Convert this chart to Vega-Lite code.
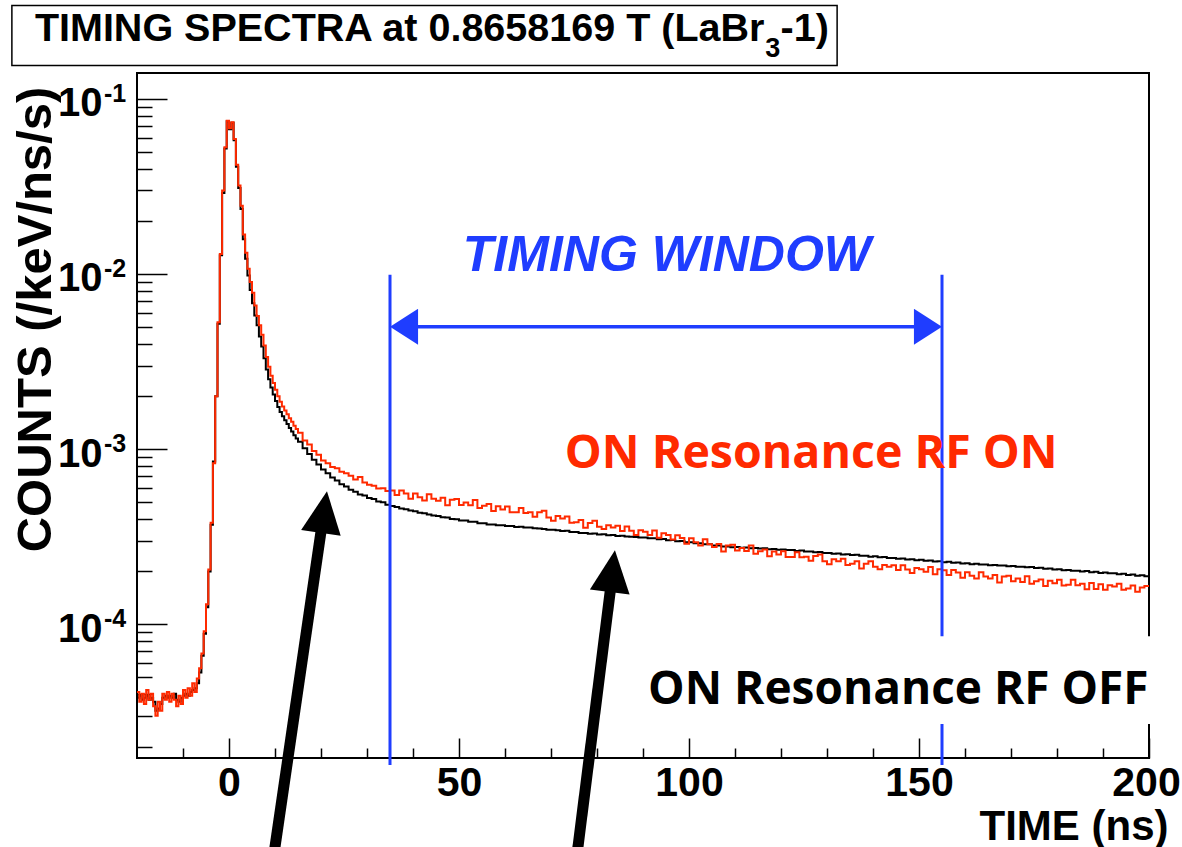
{
  "$schema": "https://vega.github.io/schema/vega-lite/v6.json",
  "width": 1012,
  "height": 685,
  "autosize": {"type": "none"},
  "padding": {"left": 137, "top": 73, "right": 33, "bottom": 89},
  "background": "white",
  "config": {
    "view": {"stroke": "black", "strokeWidth": 2},
    "axis": {"labelColor": "black", "tickColor": "black", "titleColor": "black", "domain": false, "grid": false}
  },
  "data": {"name": "anchor"},
  "datasets": {
    "anchor": [{}],
    "spectra": [
      {"t": -20, "off": 3.8e-5, "on": 4.1e-5},
      {"t": -19.5, "off": 3.9e-5, "on": 3.6e-5},
      {"t": -19, "off": 3.7e-5, "on": 4.0e-5},
      {"t": -18.5, "off": 3.8e-5, "on": 3.5e-5},
      {"t": -18, "off": 3.9e-5, "on": 4.2e-5},
      {"t": -17.5, "off": 3.7e-5, "on": 3.7e-5},
      {"t": -17, "off": 3.8e-5, "on": 4.0e-5},
      {"t": -16.5, "off": 3.6e-5, "on": 3.4e-5},
      {"t": -16, "off": 3.2e-5, "on": 3.0e-5},
      {"t": -15.5, "off": 3.3e-5, "on": 3.6e-5},
      {"t": -15, "off": 3.5e-5, "on": 3.2e-5},
      {"t": -14.5, "off": 3.8e-5, "on": 4.0e-5},
      {"t": -14, "off": 3.9e-5, "on": 3.7e-5},
      {"t": -13.5, "off": 3.8e-5, "on": 4.1e-5},
      {"t": -13, "off": 3.9e-5, "on": 3.6e-5},
      {"t": -12.5, "off": 3.8e-5, "on": 4.0e-5},
      {"t": -12, "off": 4.0e-5, "on": 3.7e-5},
      {"t": -11.5, "off": 3.7e-5, "on": 3.4e-5},
      {"t": -11, "off": 3.6e-5, "on": 3.9e-5},
      {"t": -10.5, "off": 3.8e-5, "on": 3.5e-5},
      {"t": -10, "off": 3.9e-5, "on": 4.2e-5},
      {"t": -9.5, "off": 4.0e-5, "on": 3.8e-5},
      {"t": -9, "off": 3.9e-5, "on": 4.3e-5},
      {"t": -8.5, "off": 4.1e-5, "on": 3.9e-5},
      {"t": -8, "off": 4.2e-5, "on": 4.6e-5},
      {"t": -7.5, "off": 4.3e-5, "on": 4.1e-5},
      {"t": -7, "off": 4.6e-5, "on": 4.9e-5},
      {"t": -6.5, "off": 5.3e-5, "on": 5.6e-5},
      {"t": -6, "off": 6.6e-5, "on": 6.8e-5},
      {"t": -5.5, "off": 8.8e-5, "on": 9.1e-5},
      {"t": -5, "off": 1.25e-4, "on": 1.30e-4},
      {"t": -4.5, "off": 2.0e-4, "on": 2.05e-4},
      {"t": -4, "off": 3.7e-4, "on": 3.8e-4},
      {"t": -3.5, "off": 8.5e-4, "on": 8.3e-4},
      {"t": -3, "off": 2.0e-3, "on": 2.0e-3},
      {"t": -2.5, "off": 5.2e-3, "on": 5.3e-3},
      {"t": -2, "off": 1.28e-2, "on": 1.30e-2},
      {"t": -1.5, "off": 2.9e-2, "on": 3.0e-2},
      {"t": -1, "off": 5.2e-2, "on": 5.3e-2},
      {"t": -0.5, "off": 7.45e-2, "on": 7.5e-2},
      {"t": 0, "off": 6.7e-2, "on": 6.8e-2},
      {"t": 0.5, "off": 7.3e-2, "on": 7.35e-2},
      {"t": 1, "off": 5.8e-2, "on": 5.9e-2},
      {"t": 1.5, "off": 4.1e-2, "on": 4.2e-2},
      {"t": 2, "off": 3.1e-2, "on": 3.2e-2},
      {"t": 2.5, "off": 2.35e-2, "on": 2.45e-2},
      {"t": 3, "off": 1.58e-2, "on": 1.68e-2},
      {"t": 3.5, "off": 1.22e-2, "on": 1.32e-2},
      {"t": 4, "off": 9.8e-3, "on": 1.07e-2},
      {"t": 4.5, "off": 8.1e-3, "on": 9.0e-3},
      {"t": 5, "off": 6.8e-3, "on": 7.8e-3},
      {"t": 5.5, "off": 5.8e-3, "on": 6.6e-3},
      {"t": 6, "off": 5.1e-3, "on": 5.75e-3},
      {"t": 6.5, "off": 4.4e-3, "on": 5.1e-3},
      {"t": 7, "off": 3.85e-3, "on": 4.5e-3},
      {"t": 7.5, "off": 3.3e-3, "on": 3.9e-3},
      {"t": 8, "off": 2.85e-3, "on": 3.35e-3},
      {"t": 8.5, "off": 2.5e-3, "on": 2.95e-3},
      {"t": 9, "off": 2.25e-3, "on": 2.62e-3},
      {"t": 9.5, "off": 2.05e-3, "on": 2.38e-3},
      {"t": 10, "off": 1.88e-3, "on": 2.18e-3},
      {"t": 10.5, "off": 1.74e-3, "on": 2.0e-3},
      {"t": 11, "off": 1.63e-3, "on": 1.86e-3},
      {"t": 11.5, "off": 1.54e-3, "on": 1.75e-3},
      {"t": 12, "off": 1.46e-3, "on": 1.66e-3},
      {"t": 12.5, "off": 1.39e-3, "on": 1.58e-3},
      {"t": 13, "off": 1.32e-3, "on": 1.50e-3},
      {"t": 13.5, "off": 1.26e-3, "on": 1.43e-3},
      {"t": 14, "off": 1.20e-3, "on": 1.36e-3},
      {"t": 14.5, "off": 1.15e-3, "on": 1.30e-3},
      {"t": 15, "off": 1.10e-3, "on": 1.24e-3},
      {"t": 16, "off": 1.01e-3, "on": 1.12e-3},
      {"t": 17, "off": 9.38e-4, "on": 1.06e-3},
      {"t": 18, "off": 8.68e-4, "on": 9.75e-4},
      {"t": 19, "off": 8.17e-4, "on": 9.28e-4},
      {"t": 20, "off": 7.63e-4, "on": 8.60e-4},
      {"t": 21, "off": 7.27e-4, "on": 8.31e-4},
      {"t": 22, "off": 6.88e-4, "on": 7.90e-4},
      {"t": 23, "off": 6.62e-4, "on": 7.78e-4},
      {"t": 24, "off": 6.30e-4, "on": 7.42e-4},
      {"t": 25, "off": 6.12e-4, "on": 7.28e-4},
      {"t": 26, "off": 5.86e-4, "on": 7.05e-4},
      {"t": 27, "off": 5.71e-4, "on": 6.70e-4},
      {"t": 28, "off": 5.50e-4, "on": 6.92e-4},
      {"t": 29, "off": 5.42e-4, "on": 6.45e-4},
      {"t": 30, "off": 5.25e-4, "on": 6.25e-4},
      {"t": 31, "off": 5.18e-4, "on": 6.18e-4},
      {"t": 32, "off": 5.02e-4, "on": 5.95e-4},
      {"t": 33, "off": 4.97e-4, "on": 5.98e-4},
      {"t": 34, "off": 4.80e-4, "on": 5.76e-4},
      {"t": 35, "off": 4.73e-4, "on": 5.80e-4},
      {"t": 36, "off": 4.67e-4, "on": 5.47e-4},
      {"t": 37, "off": 4.57e-4, "on": 5.80e-4},
      {"t": 38, "off": 4.53e-4, "on": 5.58e-4},
      {"t": 39, "off": 4.45e-4, "on": 5.20e-4},
      {"t": 40, "off": 4.41e-4, "on": 5.58e-4},
      {"t": 41, "off": 4.32e-4, "on": 5.31e-4},
      {"t": 42, "off": 4.30e-4, "on": 5.09e-4},
      {"t": 43, "off": 4.23e-4, "on": 5.51e-4},
      {"t": 44, "off": 4.18e-4, "on": 5.21e-4},
      {"t": 45, "off": 4.15e-4, "on": 5.06e-4},
      {"t": 46, "off": 4.08e-4, "on": 5.27e-4},
      {"t": 47, "off": 4.06e-4, "on": 4.77e-4},
      {"t": 48, "off": 3.99e-4, "on": 5.13e-4},
      {"t": 49, "off": 3.97e-4, "on": 5.18e-4},
      {"t": 50, "off": 3.91e-4, "on": 4.79e-4},
      {"t": 51, "off": 3.91e-4, "on": 4.95e-4},
      {"t": 52, "off": 3.85e-4, "on": 4.77e-4},
      {"t": 53, "off": 3.84e-4, "on": 5.12e-4},
      {"t": 54, "off": 3.77e-4, "on": 4.60e-4},
      {"t": 55, "off": 3.77e-4, "on": 4.75e-4},
      {"t": 56, "off": 3.71e-4, "on": 4.85e-4},
      {"t": 57, "off": 3.71e-4, "on": 4.43e-4},
      {"t": 58, "off": 3.67e-4, "on": 4.71e-4},
      {"t": 59, "off": 3.67e-4, "on": 4.52e-4},
      {"t": 60, "off": 3.63e-4, "on": 4.70e-4},
      {"t": 61, "off": 3.64e-4, "on": 4.35e-4},
      {"t": 62, "off": 3.59e-4, "on": 4.35e-4},
      {"t": 63, "off": 3.60e-4, "on": 4.61e-4},
      {"t": 64, "off": 3.56e-4, "on": 4.31e-4},
      {"t": 65, "off": 3.56e-4, "on": 4.35e-4},
      {"t": 66, "off": 3.53e-4, "on": 4.10e-4},
      {"t": 67, "off": 3.52e-4, "on": 4.36e-4},
      {"t": 68, "off": 3.50e-4, "on": 4.44e-4},
      {"t": 69, "off": 3.46e-4, "on": 4.07e-4},
      {"t": 70, "off": 3.46e-4, "on": 3.90e-4},
      {"t": 71, "off": 3.44e-4, "on": 4.14e-4},
      {"t": 72, "off": 3.40e-4, "on": 4.01e-4},
      {"t": 73, "off": 3.41e-4, "on": 4.12e-4},
      {"t": 74, "off": 3.36e-4, "on": 3.79e-4},
      {"t": 75, "off": 3.36e-4, "on": 3.82e-4},
      {"t": 76, "off": 3.32e-4, "on": 3.93e-4},
      {"t": 77, "off": 3.32e-4, "on": 3.55e-4},
      {"t": 78, "off": 3.28e-4, "on": 3.78e-4},
      {"t": 79, "off": 3.29e-4, "on": 3.89e-4},
      {"t": 80, "off": 3.25e-4, "on": 3.60e-4},
      {"t": 81, "off": 3.26e-4, "on": 3.49e-4},
      {"t": 82, "off": 3.22e-4, "on": 3.67e-4},
      {"t": 83, "off": 3.23e-4, "on": 3.57e-4},
      {"t": 84, "off": 3.19e-4, "on": 3.65e-4},
      {"t": 85, "off": 3.20e-4, "on": 3.40e-4},
      {"t": 86, "off": 3.17e-4, "on": 3.61e-4},
      {"t": 87, "off": 3.16e-4, "on": 3.41e-4},
      {"t": 88, "off": 3.15e-4, "on": 3.23e-4},
      {"t": 89, "off": 3.12e-4, "on": 3.44e-4},
      {"t": 90, "off": 3.12e-4, "on": 3.37e-4},
      {"t": 91, "off": 3.09e-4, "on": 3.23e-4},
      {"t": 92, "off": 3.09e-4, "on": 3.43e-4},
      {"t": 93, "off": 3.05e-4, "on": 3.11e-4},
      {"t": 94, "off": 3.06e-4, "on": 3.30e-4},
      {"t": 95, "off": 3.01e-4, "on": 3.23e-4},
      {"t": 96, "off": 3.02e-4, "on": 3.04e-4},
      {"t": 97, "off": 2.97e-4, "on": 3.22e-4},
      {"t": 98, "off": 2.98e-4, "on": 3.10e-4},
      {"t": 99, "off": 2.94e-4, "on": 2.88e-4},
      {"t": 100, "off": 2.94e-4, "on": 3.09e-4},
      {"t": 101, "off": 2.90e-4, "on": 2.94e-4},
      {"t": 102, "off": 2.90e-4, "on": 2.81e-4},
      {"t": 103, "off": 2.86e-4, "on": 3.05e-4},
      {"t": 104, "off": 2.86e-4, "on": 2.86e-4},
      {"t": 105, "off": 2.81e-4, "on": 2.76e-4},
      {"t": 106, "off": 2.81e-4, "on": 2.87e-4},
      {"t": 107, "off": 2.78e-4, "on": 2.60e-4},
      {"t": 108, "off": 2.78e-4, "on": 2.81e-4},
      {"t": 109, "off": 2.75e-4, "on": 2.84e-4},
      {"t": 110, "off": 2.76e-4, "on": 2.63e-4},
      {"t": 111, "off": 2.73e-4, "on": 2.72e-4},
      {"t": 112, "off": 2.74e-4, "on": 2.62e-4},
      {"t": 113, "off": 2.71e-4, "on": 2.81e-4},
      {"t": 114, "off": 2.72e-4, "on": 2.52e-4},
      {"t": 115, "off": 2.70e-4, "on": 2.61e-4},
      {"t": 116, "off": 2.71e-4, "on": 2.67e-4},
      {"t": 117, "off": 2.68e-4, "on": 2.44e-4},
      {"t": 118, "off": 2.69e-4, "on": 2.60e-4},
      {"t": 119, "off": 2.66e-4, "on": 2.50e-4},
      {"t": 120, "off": 2.67e-4, "on": 2.61e-4},
      {"t": 121, "off": 2.65e-4, "on": 2.42e-4},
      {"t": 122, "off": 2.65e-4, "on": 2.42e-4},
      {"t": 123, "off": 2.62e-4, "on": 2.57e-4},
      {"t": 124, "off": 2.63e-4, "on": 2.41e-4},
      {"t": 125, "off": 2.60e-4, "on": 2.43e-4},
      {"t": 126, "off": 2.60e-4, "on": 2.30e-4},
      {"t": 127, "off": 2.57e-4, "on": 2.45e-4},
      {"t": 128, "off": 2.58e-4, "on": 2.50e-4},
      {"t": 129, "off": 2.55e-4, "on": 2.29e-4},
      {"t": 130, "off": 2.55e-4, "on": 2.20e-4},
      {"t": 131, "off": 2.52e-4, "on": 2.35e-4},
      {"t": 132, "off": 2.53e-4, "on": 2.29e-4},
      {"t": 133, "off": 2.50e-4, "on": 2.36e-4},
      {"t": 134, "off": 2.51e-4, "on": 2.18e-4},
      {"t": 135, "off": 2.48e-4, "on": 2.21e-4},
      {"t": 136, "off": 2.49e-4, "on": 2.29e-4},
      {"t": 137, "off": 2.46e-4, "on": 2.08e-4},
      {"t": 138, "off": 2.46e-4, "on": 2.21e-4},
      {"t": 139, "off": 2.43e-4, "on": 2.29e-4},
      {"t": 140, "off": 2.44e-4, "on": 2.13e-4},
      {"t": 141, "off": 2.41e-4, "on": 2.06e-4},
      {"t": 142, "off": 2.42e-4, "on": 2.18e-4},
      {"t": 143, "off": 2.39e-4, "on": 2.13e-4},
      {"t": 144, "off": 2.39e-4, "on": 2.17e-4},
      {"t": 145, "off": 2.36e-4, "on": 2.04e-4},
      {"t": 146, "off": 2.37e-4, "on": 2.17e-4},
      {"t": 147, "off": 2.34e-4, "on": 2.05e-4},
      {"t": 148, "off": 2.35e-4, "on": 1.96e-4},
      {"t": 149, "off": 2.32e-4, "on": 2.09e-4},
      {"t": 150, "off": 2.33e-4, "on": 2.06e-4},
      {"t": 151, "off": 2.30e-4, "on": 1.99e-4},
      {"t": 152, "off": 2.31e-4, "on": 2.12e-4},
      {"t": 153, "off": 2.28e-4, "on": 1.93e-4},
      {"t": 154, "off": 2.29e-4, "on": 2.06e-4},
      {"t": 155, "off": 2.26e-4, "on": 2.03e-4},
      {"t": 156, "off": 2.27e-4, "on": 1.91e-4},
      {"t": 157, "off": 2.24e-4, "on": 2.04e-4},
      {"t": 158, "off": 2.25e-4, "on": 1.97e-4},
      {"t": 159, "off": 2.22e-4, "on": 1.84e-4},
      {"t": 160, "off": 2.23e-4, "on": 1.98e-4},
      {"t": 161, "off": 2.20e-4, "on": 1.89e-4},
      {"t": 162, "off": 2.21e-4, "on": 1.82e-4},
      {"t": 163, "off": 2.19e-4, "on": 1.98e-4},
      {"t": 164, "off": 2.19e-4, "on": 1.87e-4},
      {"t": 165, "off": 2.17e-4, "on": 1.82e-4},
      {"t": 166, "off": 2.18e-4, "on": 1.91e-4},
      {"t": 167, "off": 2.16e-4, "on": 1.73e-4},
      {"t": 168, "off": 2.16e-4, "on": 1.87e-4},
      {"t": 169, "off": 2.14e-4, "on": 1.89e-4},
      {"t": 170, "off": 2.15e-4, "on": 1.76e-4},
      {"t": 171, "off": 2.13e-4, "on": 1.82e-4},
      {"t": 172, "off": 2.13e-4, "on": 1.74e-4},
      {"t": 173, "off": 2.11e-4, "on": 1.88e-4},
      {"t": 174, "off": 2.12e-4, "on": 1.70e-4},
      {"t": 175, "off": 2.09e-4, "on": 1.76e-4},
      {"t": 176, "off": 2.10e-4, "on": 1.80e-4},
      {"t": 177, "off": 2.07e-4, "on": 1.65e-4},
      {"t": 178, "off": 2.08e-4, "on": 1.77e-4},
      {"t": 179, "off": 2.05e-4, "on": 1.71e-4},
      {"t": 180, "off": 2.06e-4, "on": 1.79e-4},
      {"t": 181, "off": 2.03e-4, "on": 1.66e-4},
      {"t": 182, "off": 2.04e-4, "on": 1.68e-4},
      {"t": 183, "off": 2.02e-4, "on": 1.79e-4},
      {"t": 184, "off": 2.02e-4, "on": 1.67e-4},
      {"t": 185, "off": 2.00e-4, "on": 1.70e-4},
      {"t": 186, "off": 2.01e-4, "on": 1.58e-4},
      {"t": 187, "off": 1.98e-4, "on": 1.72e-4},
      {"t": 188, "off": 1.99e-4, "on": 1.59e-4},
      {"t": 189, "off": 1.96e-4, "on": 1.69e-4},
      {"t": 190, "off": 1.97e-4, "on": 1.57e-4},
      {"t": 191, "off": 1.95e-4, "on": 1.67e-4},
      {"t": 192, "off": 1.95e-4, "on": 1.64e-4},
      {"t": 193, "off": 1.93e-4, "on": 1.70e-4},
      {"t": 194, "off": 1.94e-4, "on": 1.57e-4},
      {"t": 195, "off": 1.91e-4, "on": 1.60e-4},
      {"t": 196, "off": 1.92e-4, "on": 1.66e-4},
      {"t": 197, "off": 1.89e-4, "on": 1.53e-4},
      {"t": 198, "off": 1.90e-4, "on": 1.62e-4},
      {"t": 199, "off": 1.88e-4, "on": 1.65e-4},
      {"t": 200, "off": 1.88e-4, "on": 1.65e-4}
    ],
    "window": [{"t": 35}, {"t": 155}],
    "decades": [
      {"v": 0.1, "e": "-1"},
      {"v": 0.01, "e": "-2"},
      {"v": 0.001, "e": "-3"},
      {"v": 0.0001, "e": "-4"}
    ]
  },
  "layer": [
    {
      "data": {"name": "spectra"},
      "mark": {"type": "line", "interpolate": "step-after", "color": "black", "strokeWidth": 2},
      "encoding": {
        "x": {
          "field": "t",
          "type": "quantitative",
          "scale": {"domain": [-20, 200], "nice": false, "zero": false},
          "axis": {
            "orient": "bottom",
            "values": [-10, 0, 10, 20, 30, 40, 50, 60, 70, 80, 90, 100, 110, 120, 130, 140, 150, 160, 170, 180, 190, 200],
            "labelExpr": "datum.value % 50 === 0 ? format(datum.value, 'd') : ''",
            "tickSize": {"condition": {"test": "datum.value % 50 === 0", "value": -20}, "value": -10},
            "tickWidth": 1.5,
            "labelFont": "Liberation Sans",
            "labelFontWeight": "bold",
            "labelFontSize": 41,
            "labelPadding": 25,
            "labelOffset": {"condition": {"test": "datum.value === 200", "value": -3}, "value": 0},
            "labelFlush": false,
            "labelOverlap": false,
            "title": "TIME (ns)",
            "titleFont": "Liberation Sans",
            "titleFontWeight": "bold",
            "titleFontSize": 42,
            "titleX": 1031,
            "titleY": 81,
            "titleAlign": "right",
            "titleBaseline": "alphabetic"
          }
        },
        "y": {
          "field": "off",
          "type": "quantitative",
          "scale": {"type": "log", "domain": [1.72e-5, 0.1405], "nice": false},
          "axis": {
            "orient": "left",
            "values": [2e-5, 3e-5, 4e-5, 5e-5, 6e-5, 7e-5, 8e-5, 9e-5, 1e-4, 2e-4, 3e-4, 4e-4, 5e-4, 6e-4, 7e-4, 8e-4, 9e-4, 1e-3, 2e-3, 3e-3, 4e-3, 5e-3, 6e-3, 7e-3, 8e-3, 9e-3, 0.01, 0.02, 0.03, 0.04, 0.05, 0.06, 0.07, 0.08, 0.09, 0.1],
            "labelExpr": "abs(log(datum.value) / LN10 - round(log(datum.value) / LN10)) < 0.001 ? '10' : ''",
            "tickSize": {"condition": {"test": "abs(log(datum.value) / LN10 - round(log(datum.value) / LN10)) < 0.001", "value": -30}, "value": -15},
            "tickWidth": 1.5,
            "labelFont": "Liberation Sans",
            "labelFontWeight": "bold",
            "labelFontSize": 40,
            "labelPadding": 65,
            "labelBaseline": "middle",
            "labelOffset": 5,
            "labelOverlap": false,
            "labelFlush": false,
            "title": "COUNTS (/keV/ns/s)",
            "titleFont": "Liberation Sans",
            "titleFontWeight": "bold",
            "titleFontSize": 49,
            "titleX": -102,
            "titleY": 246,
            "titleAlign": "center",
            "titleBaseline": "middle"
          }
        }
      }
    },
    {
      "data": {"name": "spectra"},
      "mark": {"type": "line", "interpolate": "step-after", "color": "#ff2a00", "strokeWidth": 2},
      "encoding": {
        "x": {"field": "t", "type": "quantitative"},
        "y": {"field": "on", "type": "quantitative"}
      }
    },
    {
      "data": {"name": "window"},
      "mark": {"type": "rule", "color": "#1f3dff", "strokeWidth": 3},
      "encoding": {
        "x": {"field": "t", "type": "quantitative"},
        "y": {"datum": 0.0099},
        "y2": {"datum": 1.57e-5}
      }
    },
    {
      "mark": {"type": "rule", "color": "#1f3dff", "strokeWidth": 3.5},
      "encoding": {
        "x": {"datum": 37},
        "x2": {"datum": 153},
        "y": {"datum": 0.005}
      }
    },
    {
      "mark": {"type": "point", "shape": "M0,0L1.56,-1L1.56,1Z", "size": 1296, "filled": true, "color": "#1f3dff", "opacity": 1, "strokeWidth": 0},
      "encoding": {"x": {"datum": 35}, "y": {"datum": 0.005}}
    },
    {
      "mark": {"type": "point", "shape": "M0,0L-1.56,-1L-1.56,1Z", "size": 1296, "filled": true, "color": "#1f3dff", "opacity": 1, "strokeWidth": 0},
      "encoding": {"x": {"datum": 155}, "y": {"datum": 0.005}}
    },
    {
      "mark": {"type": "text", "text": "TIMING WINDOW", "font": "Liberation Sans", "fontWeight": "bold", "fontStyle": "italic", "fontSize": 50, "color": "#1f3dff", "align": "center", "baseline": "alphabetic"},
      "encoding": {"x": {"datum": 95.2}, "y": {"datum": 0.01033}}
    },
    {
      "mark": {"type": "rule", "color": "black", "strokeWidth": 11},
      "encoding": {"x": {"datum": 9.58}, "x2": {"datum": 20.2}, "y": {"datum": 4.49e-6}, "y2": {"datum": 3.67e-4}}
    },
    {
      "mark": {"type": "point", "shape": "M0,0L1,2.1L-1,2.1Z", "size": 1600, "filled": true, "color": "black", "opacity": 1, "strokeWidth": 0, "angle": 8.3},
      "encoding": {"x": {"datum": 21.3}, "y": {"datum": 5.74e-4}}
    },
    {
      "mark": {"type": "rule", "color": "black", "strokeWidth": 11},
      "encoding": {"x": {"datum": 75.5}, "x2": {"datum": 83.04}, "y": {"datum": 4.49e-6}, "y2": {"datum": 1.667e-4}}
    },
    {
      "mark": {"type": "point", "shape": "M0,0L1,2.1L-1,2.1Z", "size": 1600, "filled": true, "color": "black", "opacity": 1, "strokeWidth": 0, "angle": 7.1},
      "encoding": {"x": {"datum": 83.9}, "y": {"datum": 2.64e-4}}
    },
    {
      "mark": {"type": "rect", "fill": "white", "stroke": null},
      "encoding": {"x": {"datum": 89.3}, "x2": {"datum": 207.2}, "y": {"datum": 8.53e-5}, "y2": {"datum": 2.69e-5}}
    },
    {
      "mark": {"type": "text", "text": "ON Resonance RF ON", "font": "Open Sans", "fontWeight": "bold", "fontSize": 46.5, "color": "#ff2a00", "align": "left", "baseline": "alphabetic"},
      "encoding": {"x": {"datum": 73.0}, "y": {"datum": 7.76e-4}}
    },
    {
      "mark": {"type": "text", "text": "ON Resonance RF OFF", "font": "Open Sans", "fontWeight": "bold", "fontSize": 46, "color": "black", "align": "left", "baseline": "alphabetic"},
      "encoding": {"x": {"datum": 91.1}, "y": {"datum": 3.49e-5}}
    },
    {
      "data": {"name": "decades"},
      "mark": {"type": "text", "font": "Liberation Sans", "fontWeight": "bold", "fontSize": 25, "color": "black", "align": "left", "baseline": "alphabetic", "dx": -33, "dy": 3},
      "encoding": {"x": {"datum": -20}, "y": {"field": "v", "type": "quantitative"}, "text": {"field": "e"}}
    },
    {
      "mark": {"type": "rect", "fill": "white", "stroke": "black", "strokeWidth": 1.5},
      "encoding": {"x": {"datum": -47.2}, "x2": {"datum": 132.2}, "y": {"datum": 0.341}, "y2": {"datum": 0.155}}
    },
    {
      "mark": {"type": "text", "text": "TIMING SPECTRA at 0.8658169 T (LaBr", "font": "Liberation Sans", "fontWeight": "bold", "fontSize": 39.5, "color": "black", "align": "left", "baseline": "alphabetic"},
      "encoding": {"x": {"datum": -42.2}, "y": {"datum": 0.2153}}
    },
    {
      "mark": {"type": "text", "text": "3", "font": "Liberation Sans", "fontWeight": "bold", "fontSize": 27, "color": "black", "align": "left", "baseline": "alphabetic"},
      "encoding": {"x": {"datum": 116.6}, "y": {"datum": 0.1743}}
    },
    {
      "mark": {"type": "text", "text": "-1)", "font": "Liberation Sans", "fontWeight": "bold", "fontSize": 39.5, "color": "black", "align": "left", "baseline": "alphabetic"},
      "encoding": {"x": {"datum": 119.9}, "y": {"datum": 0.2153}}
    }
  ]
}
